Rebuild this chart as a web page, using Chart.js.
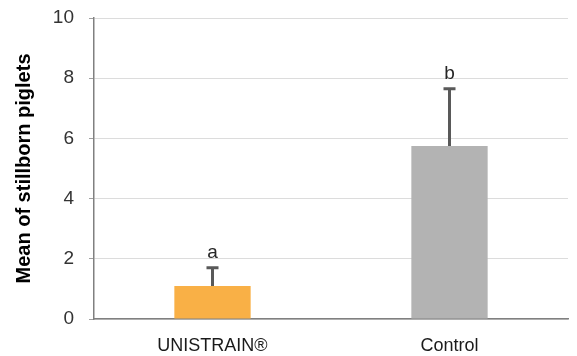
<!DOCTYPE html>
<html>
<head>
<meta charset="utf-8">
<script src="https://cdn.jsdelivr.net/npm/chart.js@4"></script>
<style>
html,body{margin:0;padding:0;background:#fff}
#wrap{width:577px;height:356px}
</style>
</head>
<body>
<div id="wrap"><canvas id="chart"></canvas></div>
<script>

const categories = ["UNISTRAIN®", "Control"]
const means = [1.1, 5.75]
const errors = [0.6, 1.9]
const letters = ["a", "b"]
const barColors = ["#F9B046", "#B3B3B3"]

/* error bars + significance letters */
const errorBars = {
id:"errorBars",
afterDatasetsDraw(chart){
const ctx = chart.ctx
const x = chart.scales.x
const y = chart.scales.y
ctx.save()
means.forEach((m,i)=>{
const cx = x.getPixelForValue(i)
const y0 = y.getPixelForValue(m)
const y1 = y.getPixelForValue(m+errors[i])
ctx.strokeStyle = "#595959"
ctx.lineWidth = 3
ctx.beginPath()
ctx.moveTo(cx,y0)
ctx.lineTo(cx,y1)
ctx.moveTo(cx-6,y1)
ctx.lineTo(cx+6,y1)
ctx.stroke()
ctx.fillStyle = "#262626"
ctx.font = "19px 'Liberation Sans', Arial, sans-serif"
ctx.textAlign = "center"
ctx.textBaseline = "alphabetic"
ctx.fillText(letters[i],cx,y1-10)
})
ctx.restore()
}
}

new Chart(document.getElementById("chart"),{
type:"bar",
data:{
labels:categories,
datasets:[{
data:means,
backgroundColor:barColors,
borderWidth:0,
categoryPercentage:1,
barPercentage:0.322
}]
},
options:{
responsive:true,
maintainAspectRatio:false,
animation:false,
layout:{padding:{top:18,right:9,left:0,bottom:0}},
plugins:{legend:{display:false},tooltip:{enabled:false}},
scales:{
x:{
grid:{display:false,drawTicks:false},
border:{display:true,color:"#808080",width:1.5},
ticks:{color:"#1a1a1a",font:{family:"'Liberation Sans', Arial, sans-serif",size:18},padding:16},
afterFit(scale){ scale.height = 37 }
},
y:{
min:0,
max:10,
ticks:{stepSize:2,color:"#333",font:{family:"'Liberation Sans', Arial, sans-serif",size:19},padding:15},
grid:{color:"#dcdcdc",lineWidth:1,tickLength:5,tickColor:"#a0a0a0"},
border:{display:true,color:"#808080",width:1.5},
title:{display:true,text:"Mean of stillborn piglets",color:"#000",font:{family:"'Liberation Sans', Arial, sans-serif",size:20,weight:"bold"},padding:{top:12,bottom:0}},
afterFit(scale){
scale.width = 94
scale.paddingTop = 0
scale.paddingBottom = 0
}
}
}
},
plugins:[errorBars]
})

</script>
</body>
</html>
